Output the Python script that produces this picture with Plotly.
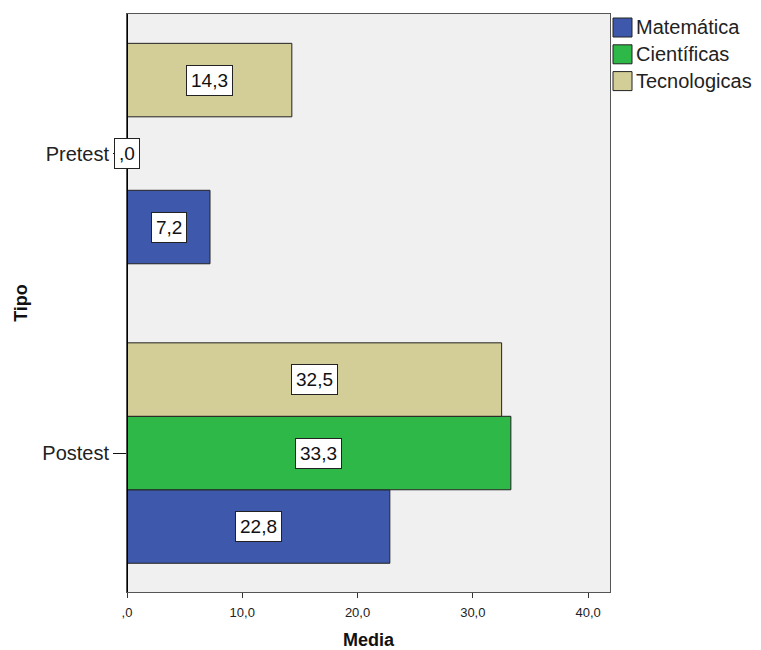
import plotly.graph_objects as go

categories = ["Postest", "Pretest"]
series_names = ["Matemática", "Científicas", "Tecnologicas"]
matematica = [22.8, 7.2]
cientificas = [33.3, 0.0]
tecnologicas = [32.5, 14.3]
x_ticks = [0, 10, 20, 30, 40]
x_tick_labels = [",0", "10,0", "20,0", "30,0", "40,0"]

values = [matematica, cientificas, tecnologicas]
colors = ["#3E58AC", "#2EB848", "#D3CE97"]
bargap = 0.264
FONT = "Liberation Sans, Arial, sans-serif"

W, H = 761, 650
ML, MR, MT, MB = 127, 151, 14, 58
PW, PH = W - ML - MR, H - MT - MB


def px_to_paper_x(px):
    return (px - ML) / PW


def px_to_paper_y(py):
    return (H - MB - py) / PH


fig = go.Figure()
for name, vals, col in zip(series_names, values, colors):
    fig.add_trace(go.Bar(
        y=categories, x=vals, name=name, orientation="h",
        marker=dict(color=col, line=dict(color="#222222", width=1)),
        showlegend=False,
    ))


def fmt(v):
    s = f"{v:.1f}".replace(".", ",")
    return s[1:] if s.startswith("0") else s


# value labels in white boxes at the centre of each bar
bar_w = (1 - bargap) / len(series_names)
for i, vals in enumerate(values):
    off = (i - (len(series_names) - 1) / 2) * bar_w
    for j, v in enumerate(vals):
        fig.add_annotation(
            x=v / 2, y=j + off, xref="x", yref="y", text=fmt(v),
            showarrow=False, bgcolor="white", bordercolor="#222222",
            borderwidth=1, borderpad=4,
            font=dict(family=FONT, size=19, color="#111111"),
        )

# legend: square swatches with names, listed top to bottom
sw = 19
for k, (name, col) in enumerate(zip(series_names, colors)):
    cy = 27.5 + 26.8 * k
    fig.add_shape(
        type="rect", xref="paper", yref="paper",
        x0=px_to_paper_x(613), x1=px_to_paper_x(613 + sw),
        y0=px_to_paper_y(cy + sw / 2), y1=px_to_paper_y(cy - sw / 2),
        fillcolor=col, line=dict(color="#222222", width=1),
    )
    fig.add_annotation(
        x=px_to_paper_x(634), y=px_to_paper_y(cy), xref="paper", yref="paper",
        text=name, showarrow=False, xanchor="left", yanchor="middle",
        font=dict(family=FONT, size=20, color="#222222"),
    )

fig.update_layout(
    width=W, height=H,
    margin=dict(l=ML, r=MR, t=MT, b=MB),
    paper_bgcolor="white", plot_bgcolor="#F0F0F0",
    barmode="group", bargap=bargap, bargroupgap=0,
    font=dict(family=FONT, color="#111111"),
    showlegend=False,
)
fig.update_xaxes(
    automargin=False,
    range=[0, 41.9], tickvals=x_ticks, ticktext=x_tick_labels,
    ticks="outside", ticklen=5, tickcolor="#333333", tickwidth=1,
    ticklabelstandoff=3,
    showgrid=False, zeroline=False, showline=True, linecolor="#555555",
    linewidth=1, mirror=True,
    tickfont=dict(size=13, color="#222222"),
    title=dict(text="<b>Media</b>", font=dict(size=18, color="#111111"), standoff=16),
)
fig.update_yaxes(
    automargin=False,
    type="category", categoryorder="array", categoryarray=categories,
    range=[-0.464, 1.466],
    ticks="outside", ticklen=13, tickcolor="#111111",
    ticklabelstandoff=0,
    showgrid=False, zeroline=False, showline=True, linecolor="#555555",
    linewidth=1, mirror=True,
    tickfont=dict(size=20, color="#222222"),
    title=dict(text="<b>Tipo</b>", font=dict(size=18, color="#111111"), standoff=9),
)
# strong left axis line at zero
fig.add_shape(type="line", xref="x", yref="paper", x0=0, x1=0, y0=0, y1=1,
              line=dict(color="black", width=2))

fig.write_html("out.html")
